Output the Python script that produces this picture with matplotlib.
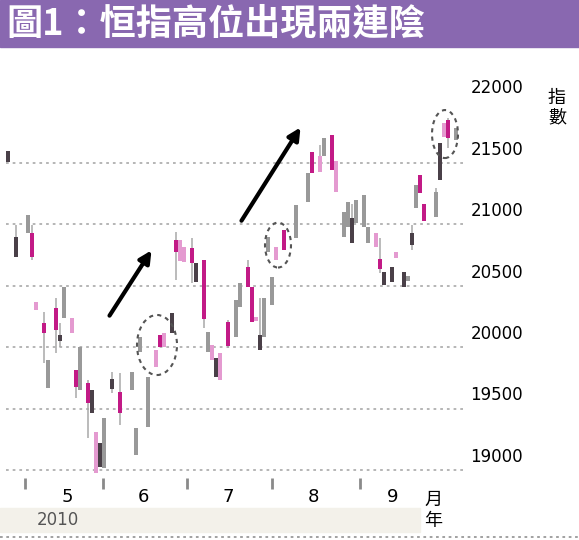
import matplotlib
matplotlib.use("Agg")
import matplotlib.pyplot as plt
from matplotlib.patches import Ellipse, Rectangle
from matplotlib.lines import Line2D

plt.rcParams['font.family'] = ['Noto Sans CJK TC', 'DejaVu Sans']

# daily candles of the Hang Seng Index (session number, high, low, body top, body bottom, tone)
sessions = [-2, 0, 3, 4, 5, 7, 8, 10, 11, 12, 14, 15, 16, 18, 19, 20, 21, 22, 24, 26,
            29, 30, 31, 33, 35, 36, 37, 39, 40, 41, 42, 44, 45, 47, 48, 49, 50, 51, 53, 55,
            56, 58, 59, 60, 61, 62, 63, 64, 65, 67, 70, 73, 74, 76, 77, 79, 80, 82, 83, 84,
            85, 87, 88, 90, 91, 92, 94, 95, 97, 98, 99, 100, 101, 102, 105, 106, 107, 108, 110]
highs = [21600, 20995, 21075, 20995, 20368, 20287, 19896, 20400, 20197, 20490, 20238, 19814, 20000, 19733, 19650, 19310, 19220, 19423, 19798, 19790,
         19800, 19340, 20083, 19757, 19977, 20100, 20115, 20280, 20938, 20870, 20816, 20890, 20685, 20710, 20123, 20018, 19912, 19950, 20221, 20384,
         20523, 20710, 20490, 20250, 20400, 20400, 20897, 20570, 20816, 20954, 21158, 21420, 21590, 21650, 21700, 21730, 21520, 21100, 21180, 21170,
         21200, 21240, 20980, 20930, 20890, 20612, 20653, 20775, 20612, 20580, 20995, 21320, 21400, 21170, 21300, 21660, 21825, 21870, 21785]
lows = [21510, 20735, 20930, 20710, 20300, 19870, 19668, 19953, 20000, 20238, 20115, 19586, 19650, 19260, 19465, 18975, 19025, 19015, 19627, 19365,
        19650, 19120, 19960, 19350, 19838, 20000, 20000, 20115, 20547, 20700, 20693, 20523, 20530, 20156, 19960, 19896, 19757, 19733, 19993, 20083,
        20328, 20490, 20205, 20210, 19977, 20080, 20775, 20344, 20710, 20790, 20889, 21180, 21420, 21430, 21560, 21440, 21260, 20897, 20980, 20850,
        21010, 20980, 20850, 20816, 20604, 20506, 20530, 20726, 20490, 20540, 20790, 21130, 21255, 21030, 21060, 21360, 21710, 21625, 21690]
body_top = [21600, 20900, 21075, 20930, 20368, 20197, 19896, 20320, 20100, 20490, 20238, 19814, 20000, 19708, 19650, 19310, 19220, 19423, 19740, 19635,
            19800, 19340, 20083, 19757, 19977, 20100, 20115, 20280, 20873, 20870, 20816, 20808, 20685, 20710, 20123, 20018, 19912, 19950, 20205, 20384,
            20523, 20650, 20490, 20250, 20100, 20400, 20897, 20570, 20816, 20954, 21158, 21420, 21590, 21560, 21700, 21730, 21520, 21100, 21180, 21050,
            21200, 21240, 20980, 20930, 20720, 20612, 20653, 20775, 20612, 20580, 20930, 21320, 21400, 21170, 21260, 21660, 21825, 21850, 21785]
body_bottom = [21510, 20735, 20930, 20735, 20300, 20115, 19668, 20140, 20050, 20238, 20115, 19675, 19650, 19545, 19465, 18975, 19025, 19015, 19660, 19465,
               19650, 19120, 19960, 19350, 19838, 20000, 20000, 20115, 20775, 20700, 20693, 20685, 20530, 20230, 19960, 19896, 19757, 19733, 20010, 20083,
               20328, 20490, 20205, 20210, 19977, 20080, 20775, 20344, 20710, 20790, 20889, 21180, 21420, 21430, 21560, 21440, 21260, 20897, 20980, 20850,
               21010, 20980, 20850, 20816, 20640, 20506, 20530, 20726, 20490, 20540, 20830, 21130, 21255, 21030, 21060, 21360, 21710, 21700, 21690]
tones = ['k', 'k', 'g', 'm', 'p', 'm', 'g', 'm', 'k', 'g', 'p', 'm', 'g', 'm', 'k', 'p', 'k', 'g', 'k', 'm',
         'g', 'g', 'g', 'g', 'p', 'm', 'p', 'k', 'm', 'p', 'p', 'm', 'k', 'm', 'g', 'p', 'k', 'p', 'm', 'g',
         'g', 'm', 'm', 'p', 'k', 'g', 'g', 'g', 'p', 'm', 'g', 'g', 'm', 'p', 'g', 'm', 'p', 'g', 'g', 'k',
         'g', 'g', 'g', 'p', 'm', 'k', 'k', 'p', 'k', 'g', 'k', 'g', 'm', 'm', 'g', 'k', 'p', 'm', 'g']

y_ticks = [19000, 19500, 20000, 20500, 21000, 21500, 22000]
month_starts = [2.25, 21.75, 42.75, 64, 86]
month_mids = [12.75, 31.75, 53, 74.25, 94.25]
month_labels = ['5', '6', '7', '8', '9']

tone_colors = {'m': '#c21a86', 'p': '#e49ad0', 'g': '#999999', 'k': '#4a4048'}

fig = plt.figure(figsize=(5.79, 5.40), dpi=100)

# purple title bar
fig.patches.append(Rectangle((0, 493 / 540), 1, 47 / 540, transform=fig.transFigure,
                             color='#8968b0', zorder=0))
fig.text(6 / 579, 1 - 24 / 540, '圖1：恒指高位出現兩連陰', color='white', fontsize=26,
         fontweight='bold', va='center', ha='left')

ax = fig.add_axes([0, 62 / 540, 465 / 579, 418 / 540])
ax.set_xlim(-4, 112.25)
ax.set_ylim(18935, 22339)
for s in ax.spines.values():
    s.set_visible(False)

# dotted grid
ax.hlines(y_ticks[:-1], -2.5, 112.25, colors='#b0b0b0', linestyles=(0, (1.5, 2.2)), lw=1.3, zorder=1)

# candles
ax.vlines(sessions, lows, highs, colors='#a8a8a8', lw=1.1, zorder=2)
heights = [t - b for t, b in zip(body_top, body_bottom)]
ax.bar(sessions, heights, bottom=body_bottom, width=0.9,
       color=[tone_colors[t] for t in tones], zorder=3)

# dashed circles round the two-bear-candle spots
for cx, cy, w, h in [(35.25, 20018, 10, 489), (65.5, 20832, 6.5, 366), (107.25, 21736, 6.5, 391)]:
    ax.add_patch(Ellipse((cx, cy), w, h, fill=False, ec='#555555', lw=1.5,
                         ls=(0, (2, 2)), zorder=4))

# arrows
arrow = dict(arrowstyle='-|>', color='black', lw=3, mutation_scale=18)
ax.annotate('', xy=(34.25, 20808), xytext=(23, 20238), arrowprops=arrow, zorder=5)
ax.annotate('', xy=(71.5, 21809), xytext=(56, 21011), arrowprops=arrow, zorder=5)

# y labels on the right, sitting above their grid lines
ax.set_yticks([])
for v in y_ticks:
    ax.annotate(str(v), xy=(1, v), xycoords=('axes fraction', 'data'), xytext=(4, 3),
                textcoords='offset points', va='bottom', ha='left', fontsize=12,
                family='DejaVu Sans', annotation_clip=False)
fig.text(557 / 579, 1 - 108 / 540, '指\n數', fontsize=13, ha='center', va='center',
         linespacing=1.1)

# month ticks and labels
ax.set_xticks(month_starts)
ax.set_xticklabels([])
ax.tick_params(axis='x', which='major', length=8, width=2, color='#8a8a8a', direction='out')
ax.set_xticks(month_mids, minor=True)
ax.set_xticklabels(month_labels, minor=True, fontsize=13, family='DejaVu Sans')
ax.tick_params(axis='x', which='minor', length=0, pad=7)
ax.annotate('月', xy=(104.25, 0), xycoords=('data', 'axes fraction'), xytext=(0, -16),
            textcoords='offset points', ha='center', va='center', fontsize=13,
            annotation_clip=False)

# year band at the bottom
fig.patches.append(Rectangle((0, 8 / 540), 420 / 579, 24 / 540, transform=fig.transFigure,
                             color='#f3f1ea', zorder=0))
fig.text(37 / 579, 20 / 540, '2010', fontsize=12, color='#555555', va='center',
         family='DejaVu Sans')
fig.text(433 / 579, 19 / 540, '年', fontsize=13, ha='center', va='center')
fig.add_artist(Line2D([0, 1], [3 / 540, 3 / 540], transform=fig.transFigure,
                      color='#9a9a9a', lw=1.3, ls=(0, (1.5, 2))))

fig.savefig('out.png', dpi=100)
